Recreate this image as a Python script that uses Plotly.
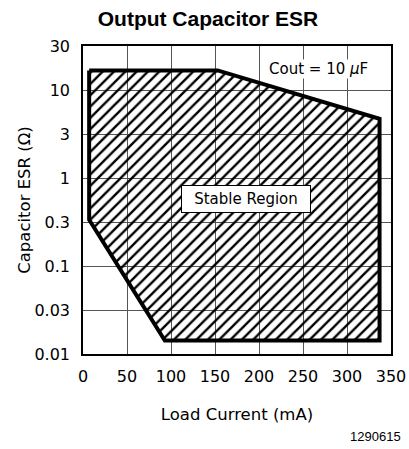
import plotly.graph_objects as go

# Boundary of the stable region (clockwise from the top-left corner)
load_current_ma = [7, 153, 337, 337, 93, 7, 7]
esr_ohm = [16.7, 16.7, 4.7, 0.0142, 0.0142, 0.335, 16.7]

x_ticks = [0, 50, 100, 150, 200, 250, 300, 350]
y_tickvals = [0.01, 0.0316, 0.1, 0.316, 1, 3.16, 10, 31.6]
y_ticktext = ["0.01", "0.03", "0.1", "0.3", "1", "3", "10", "30"]

tick_font = dict(family="DejaVu Sans", size=16, color="black")
title_font = dict(family="DejaVu Sans", size=16.5, color="black")
note_font = dict(family="DejaVu Sans", size=15, color="black")

fig = go.Figure()
fig.add_trace(go.Scatter(
    x=load_current_ma, y=esr_ohm, mode="lines",
    line=dict(color="black", width=4),
    fill="toself", fillcolor="rgba(0,0,0,0)",
    fillpattern=dict(shape="/", fgcolor="black", fgopacity=1,
                     bgcolor="rgba(0,0,0,0)",
                     size=8, solidity=0.3, fillmode="overlay"),
    hoverinfo="skip", showlegend=False,
))

fig.update_layout(
    template="none",
    width=409, height=449, autosize=False,
    margin=dict(l=83, r=18, t=46, b=94.5),
    paper_bgcolor="white", plot_bgcolor="white",
    showlegend=False,
    title=dict(text="<b>Output Capacitor ESR</b>", x=208 / 409, xanchor="center",
               y=1 - 18.5 / 449, yanchor="middle",
               font=dict(family="Liberation Sans", size=21, color="black")),
    xaxis=dict(range=[0, 350], tickvals=x_ticks, showgrid=True,
               gridcolor="#555", gridwidth=1, zeroline=False, automargin=False,
               showline=True, linecolor="black", linewidth=1.5, mirror=True,
               ticks="", ticklabelstandoff=7, tickfont=tick_font,
               title=dict(text="Load Current (mA)", font=title_font, standoff=23)),
    yaxis=dict(type="log", range=[-2, 1.5], tickvals=y_tickvals,
               ticktext=y_ticktext, showgrid=True, gridcolor="#555",
               gridwidth=1, zeroline=False, automargin=False,
               showline=True, linecolor="black", linewidth=1.5, mirror=True,
               ticks="", ticklabelstandoff=8, tickfont=tick_font,
               title=dict(text="Capacitor ESR (Ω)", font=title_font, standoff=0)),
    annotations=[
        dict(x=0.766, y=0.925, xref="paper", yref="paper",
             xanchor="center", yanchor="middle",
             text="Cout = 10 <i>μ</i>F", showarrow=False,
             font=note_font, bgcolor="white", borderpad=0),
        dict(x=185, y=-0.237, xref="x", yref="y",
             xanchor="center", yanchor="middle",
             text="Stable Region", showarrow=False, width=120, height=18,
             font=note_font, bgcolor="white", bordercolor="black",
             borderwidth=1, borderpad=4),
        dict(x=1.039, y=-0.2665, xref="paper", yref="paper",
             xanchor="right", yanchor="middle",
             text="1290615", showarrow=False,
             font=dict(family="Liberation Sans", size=13, color="black")),
    ],
)

fig.write_html("out.html", config={"displayModeBar": False},
               post_script="document.body.style.margin='0';")
